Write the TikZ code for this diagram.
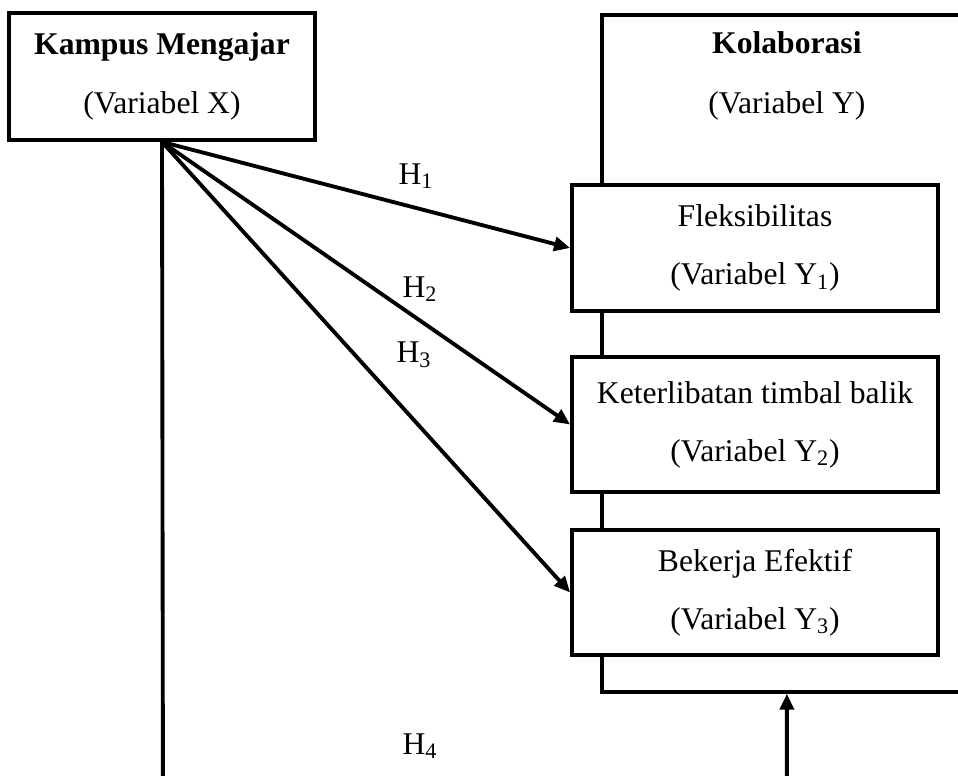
\documentclass[tikz,border=0pt]{standalone}
\usepackage{fontspec}
\setmainfont{Liberation Serif}
\usetikzlibrary{arrows.meta}

\tikzset{
  box/.style={draw, line width=2.2pt, fill=white, align=center, inner sep=0pt},
  titlebox/.style={box, minimum width=6.12cm, minimum height=2.54cm,
    font=\fontsize{18}{34}\selectfont},
  varbox/.style={box, minimum width=7.32cm, font=\fontsize{18}{33}\selectfont},
  hlabel/.style={font=\fontsize{18}{22}\selectfont, inner sep=1pt}
}

\begin{document}
\begin{tikzpicture}[x=0.02cm, y=-0.02cm, line width=2.2pt,
    >={Triangle[length=0.32cm, width=0.28cm]}]
            \path[use as bounding box, clip] (0,0) rectangle (958,776);

            % Variabel X
            \node (kampus) [titlebox] at (162,76.5) {\textbf{Kampus Mengajar}\\(Variabel X)};

            % Variabel Y
            \node (kolab) [draw, line width=2.2pt, anchor=north west, minimum width=7.4cm, minimum height=13.54cm, inner sep=0pt] at (600,13) {};
            \node (kolabtitle) [align=center, font=\fontsize{18}{34}\selectfont] at ([yshift=-1.26cm]kolab.north) {\textbf{Kolaborasi}\\(Variabel Y)};

            % Dimensi Y
            \node (flex) [varbox, minimum height=2.52cm] at (755,248) {Fleksibilitas\\(Variabel Y\textsubscript{1})};
            \node (timbal) [varbox, minimum height=2.7cm] at (755,424.5) {Keterlibatan timbal balik\\(Variabel Y\textsubscript{2})};
            \node (efektif) [varbox, minimum height=2.5cm] at (755,592.5) {Bekerja Efektif\\(Variabel Y\textsubscript{3})};

            % Hipotesis
            \draw[->] (kampus.south) -- (flex.west);
            \draw[->] (kampus.south) -- (timbal.west);
            \draw[->] (kampus.south) -- (efektif.west);
            \coordinate (bawah) at (163,830);
            \draw[->] (kampus.south) -- (bawah) -| (kolab.south);

            \node (h1) [hlabel] at (416,176) {H\textsubscript{1}};
            \node (h2) [hlabel] at (420,289) {H\textsubscript{2}};
            \node (h3) [hlabel] at (414,355) {H\textsubscript{3}};
            \node (h4) [hlabel] at (420,746) {H\textsubscript{4}};
        \end{tikzpicture}
\end{document}
